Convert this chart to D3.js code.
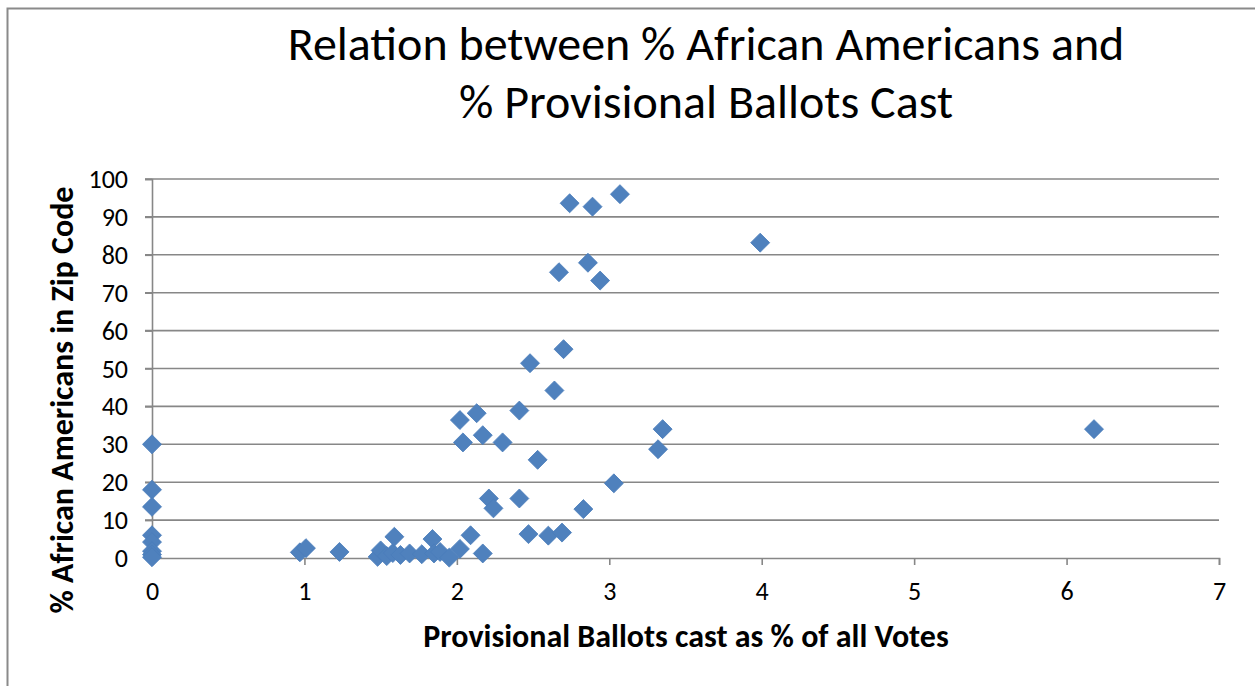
<!DOCTYPE html>
<html>
<head>
<meta charset="utf-8">
<script src="https://cdn.jsdelivr.net/npm/d3@7"></script>
<style>
  html, body { margin: 0; padding: 0; background: #fff; }
  svg { display: block; }
  text { font-family: Carlito, Calibri, Lato, "Open Sans", sans-serif; fill: #000; }
</style>
</head>
<body>
<svg id="chart" width="1255" height="686"></svg>
<script>
// Provisional ballots cast as % of all votes (x) per zip code
const provisionalPct = [
  0, 0, 0, 0, 0, 0, 0, 0,
  0.97, 1.01, 1.23,
  1.48, 1.50, 1.54, 1.58, 1.59, 1.63, 1.69, 1.77, 1.84, 1.85, 1.89, 1.95, 2.02, 2.09, 2.17,
  2.02, 2.13, 2.41, 2.04, 2.17, 2.30, 2.53, 2.21, 2.24, 2.41, 2.47, 2.60, 2.69,
  2.64, 2.48, 2.70, 2.67, 2.86, 2.94, 2.74, 2.89, 3.07,
  2.83, 3.03, 3.32, 3.35, 3.99, 6.18
];
// % African Americans in the same zip code (y)
const africanAmericanPct = [
  30, 18, 13.5, 6, 4.2, 1.8, 0.9, 0.2,
  1.5, 2.6, 1.6,
  0.3, 2.0, 0.5, 1.3, 5.6, 0.8, 1.2, 1.0, 5.0, 1.2, 1.6, 0.1, 2.4, 6.0, 1.2,
  36.4, 38.2, 38.9, 30.5, 32.4, 30.5, 25.9, 15.7, 13.1, 15.7, 6.3, 5.9, 6.7,
  44.2, 51.4, 55.1, 75.4, 77.9, 73.2, 93.6, 92.7, 96.0,
  12.9, 19.7, 28.7, 34.0, 83.2, 34.0
];
const xTicks = [0, 1, 2, 3, 4, 5, 6, 7];
const yTicks = [0, 10, 20, 30, 40, 50, 60, 70, 80, 90, 100];

const titleLines = ["Relation between % African Americans and", "% Provisional Ballots Cast"];
const xTitle = "Provisional Ballots cast as % of all Votes";
const yTitle = "% African Americans in Zip Code";

const points = provisionalPct.map((x, i) => ({ x, y: africanAmericanPct[i] }));

const svg = d3.select("#chart");
const gridColor = "#878787";
const markerColor = "#4F81BD";
const fontStack = "Carlito, Calibri, Lato, sans-serif";

// outer chart frame
svg.append("rect")
  .attr("x", 7.5).attr("y", 8.5)
  .attr("width", 1260).attr("height", 700)
  .attr("fill", "none").attr("stroke", "#8a8a8a").attr("stroke-width", 2);

const plot = { left: 152, right: 1219, top: 179, bottom: 558 };

const x = d3.scaleLinear().domain([0, 7]).range([plot.left, plot.right]);
const y = d3.scaleLinear().domain([0, 100]).range([plot.bottom, plot.top]);

// horizontal gridlines
svg.append("g")
  .selectAll("line")
  .data(yTicks.filter(d => d > 0))
  .join("line")
  .attr("x1", plot.left - 7).attr("x2", plot.right)
  .attr("y1", d => y(d)).attr("y2", d => y(d))
  .attr("stroke", gridColor).attr("stroke-width", 1.6);

// y axis
const yAxis = svg.append("g")
  .attr("transform", `translate(${plot.left},0)`)
  .call(d3.axisLeft(y).tickValues(yTicks).tickSize(7).tickPadding(10).tickFormat(d3.format("d")));
yAxis.select(".domain").attr("stroke", gridColor).attr("stroke-width", 1.6);
yAxis.selectAll(".tick line").attr("stroke", gridColor).attr("stroke-width", 1.6);
yAxis.selectAll(".tick text")
  .attr("font-size", 26).attr("fill", "#000")
  .attr("font-family", fontStack)
  .attr("x", -24).attr("dy", "0.33em");

// x axis
const xAxis = svg.append("g")
  .attr("transform", `translate(0,${plot.bottom})`)
  .call(d3.axisBottom(x).tickValues(xTicks).tickSize(7).tickPadding(10).tickFormat(d3.format("d")));
xAxis.select(".domain").attr("stroke", gridColor).attr("stroke-width", 1.6);
xAxis.selectAll(".tick line").attr("stroke", gridColor).attr("stroke-width", 1.6);
xAxis.selectAll(".tick text")
  .attr("font-size", 26).attr("fill", "#000")
  .attr("font-family", fontStack)
  .attr("y", 33).attr("dy", "0.33em");

// diamond markers
const diamond = d3.symbol().type(d3.symbolSquare).size(180);
svg.append("g")
  .selectAll("path")
  .data(points)
  .join("path")
  .attr("d", diamond)
  .attr("transform", d => `translate(${x(d.x)},${y(d.y)}) rotate(45)`)
  .attr("fill", markerColor)
  .attr("stroke", "#4a7dba").attr("stroke-width", 0.8);

// title
svg.append("g")
  .selectAll("text")
  .data(titleLines)
  .join("text")
  .attr("x", 706)
  .attr("y", (d, i) => 60 + i * 58)
  .attr("text-anchor", "middle")
  .attr("font-size", 48)
  .text(d => d);

// axis titles
svg.append("text")
  .attr("x", 686).attr("y", 647)
  .attr("text-anchor", "middle")
  .attr("font-size", 32).attr("font-weight", "bold")
  .text(xTitle);

svg.append("text")
  .attr("transform", "translate(73,400) rotate(-90)")
  .attr("text-anchor", "middle")
  .attr("font-size", 32).attr("font-weight", "bold")
  .text(yTitle);
</script>
</body>
</html>
